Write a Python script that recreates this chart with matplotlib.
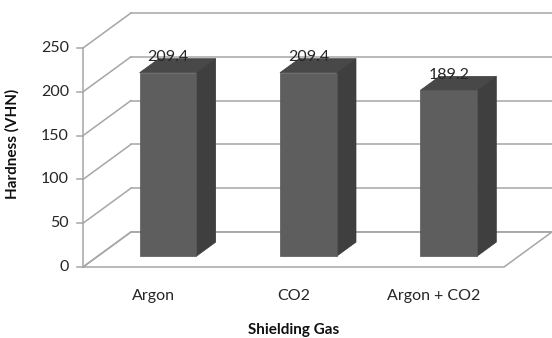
import numpy as np
import matplotlib.pyplot as plt
from matplotlib.patches import Polygon

# --- data ---
gases = ["Argon", "CO2", "Argon + CO2"]
hardness = [209.4, 209.4, 189.2]
ticks = [0, 50, 100, 150, 200, 250]

plt.rcParams["font.family"] = ["Lato", "DejaVu Sans"]

# --- 3d look: a point (category, value, depth) -> 2d data coords ---
DX, DY = 0.342, 40.0          # full depth offset (category units, value units)
BAR_W = 0.405
D0, D1 = 0.31, 0.71           # bar front/back depth
VMAX = 250


def proj(c, v, d):
    return (c + DX * d, v + DY * d)


fig = plt.figure(figsize=(5.52, 3.38), dpi=100)
ax = fig.add_axes([0, 0, 1, 1])
ax.set_xlim(-83 / 140.33, (552 - 83) / 140.33)
ax.set_ylim(-71 / 0.876, (338 - 71) / 0.876)
ax.axis("off")

grid = "#a6a6a6"
txt = "#262626"
n = len(gases)

# back wall gridlines and side wall diagonals
for t in ticks:
    x0, y0 = proj(0, t, 1)
    x1, y1 = proj(n, t, 1)
    ax.plot([x0, x1], [y0, y1], color=grid, lw=1.1, zorder=1)
    fx, fy = proj(0, t, 0)
    ax.plot([fx, x0], [fy, y0], color=grid, lw=1.1, zorder=1)
    ax.text(fx - 0.1, fy, str(t), ha="right", va="center",
            fontsize=11.5, color=txt)

# left axis line with tick marks
ax.plot([0, 0], [0, VMAX], color=grid, lw=1.1, zorder=1)
for t in ticks:
    ax.plot([-0.045, 0], [t, t], color=grid, lw=1.1, zorder=1)

# floor outline
floor = [proj(0, 0, 0), proj(n, 0, 0), proj(n, 0, 1), proj(0, 0, 1)]
ax.add_patch(Polygon(floor, closed=True, fill=False, edgecolor=grid,
                     lw=1.1, zorder=1))

# bars
for i, v in enumerate(hardness):
    l = i + 0.5 - BAR_W / 2
    r = i + 0.5 + BAR_W / 2
    front = [proj(l, 0, D0), proj(r, 0, D0), proj(r, v, D0), proj(l, v, D0)]
    side = [proj(r, 0, D0), proj(r, 0, D1), proj(r, v, D1), proj(r, v, D0)]
    top = [proj(l, v, D0), proj(r, v, D0), proj(r, v, D1), proj(l, v, D1)]
    ax.add_patch(Polygon(side, closed=True, fc="#3f3f3f", ec="#3a3a3a",
                         lw=0.5, zorder=3))
    ax.add_patch(Polygon(top, closed=True, fc="#484848", ec="#404040",
                         lw=0.5, zorder=3))
    ax.add_patch(Polygon(front, closed=True, fc="#5e5e5e", ec="#555555",
                         lw=0.5, zorder=4))
    lx, ly = proj(i + 0.5, v, D0)
    ax.text(lx, ly + 18, f"{v:.1f}", ha="center", va="center",
            fontsize=11.5, color=txt, zorder=5)
    ax.text(i + 0.5, -33, gases[i], ha="center", va="center",
            fontsize=11.5, color=txt)

ax.text(n / 2, -72, "Shielding Gas", ha="center", va="center",
        fontsize=11, fontweight="bold", color="#111111")
ax.text(-0.5, 140, "Hardness (VHN)", ha="center", va="center",
        rotation=90, fontsize=11, fontweight="bold", color="#111111")

fig.savefig("out.png", dpi=100)
